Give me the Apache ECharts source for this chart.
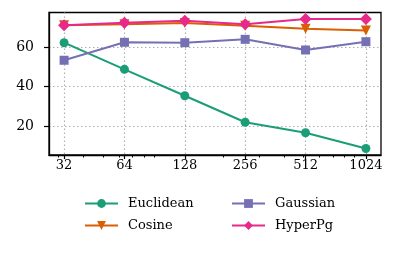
<!DOCTYPE html>
<html><head><meta charset="utf-8">
<script src="https://cdn.jsdelivr.net/npm/echarts@6/dist/echarts.min.js"></script>
<style>html,body{margin:0;padding:0;background:#fff}#c{width:398px;height:253px}</style>
</head><body><div id="c"></div>
<script>
const dims = [32, 64, 128, 256, 512, 1024];
const euclidean = [62.2, 48.7, 35.3, 21.9, 16.6, 8.6];
const cosine = [71.0, 71.6, 72.2, 70.8, 69.3, 68.4];
const gaussian = [53.3, 62.4, 62.2, 63.9, 58.5, 62.7];
const hyperpg = [71.1, 72.3, 73.3, 71.5, 74.2, 74.2];
const yTicks = [20, 40, 60];
const minorX = [30, 40, 50, 60, 70, 80, 90, 200, 300, 400, 500, 600, 700, 800, 900];

const FONT = 'DejaVu Serif';
const lg = v => Math.log2(v);
const mk = arr => dims.map((d, i) => [lg(d), arr[i]]);
const series = [
  {name: 'Euclidean', data: mk(euclidean), color: '#1b9e77', symbol: 'circle', symbolSize: 9},
  {name: 'Cosine', data: mk(cosine), color: '#d95f02', symbol: 'triangle', symbolRotate: 180, symbolSize: 10},
  {name: 'Gaussian', data: mk(gaussian), color: '#7570b3', symbol: 'rect', symbolSize: 9},
  {name: 'HyperPg', data: mk(hyperpg), color: '#e7298a', symbol: 'diamond', symbolSize: 12}
].map(s => ({
  type: 'line', name: s.name, data: s.data, symbol: s.symbol, symbolSize: s.symbolSize,
  symbolRotate: s.symbolRotate || 0, showAllSymbol: true,
  itemStyle: {color: s.color}, lineStyle: {color: s.color, width: 2}, animation: false,
  xAxisIndex: 0, yAxisIndex: 0
}));

const chart = echarts.init(document.getElementById('c'), null, {renderer: 'canvas'});
const xmin = lg(dims[0]) - 0.25, xmax = lg(dims[dims.length - 1]) + 0.25;
const legendCommon = {
  orient: 'vertical', top: 197, itemGap: 9, padding: 0,
  itemWidth: 33, itemHeight: 11,
  textStyle: {fontFamily: FONT, fontSize: 13, color: '#000', padding: [0, 0, 0, 5]},
  selectedMode: false
};
chart.setOption({
  animation: false,
  grid: {left: 49, right: 17, top: 12.5, bottom: 98, show: true, borderColor: '#000', borderWidth: 1.3, backgroundColor: 'transparent'},
  xAxis: [{
    type: 'value', min: xmin, max: xmax,
    axisLine: {show: true, lineStyle: {color: '#000', width: 1.3}},
    axisTick: {show: true, length: 4, inside: false, lineStyle: {color: '#000', width: 1.2}, customValues: dims.map(lg)},
    axisLabel: {customValues: dims.map(lg), formatter: v => String(Math.round(Math.pow(2, v))), color: '#000', fontFamily: FONT, fontSize: 13, margin: 4},
    splitLine: {show: true, lineStyle: {color: '#b0b0b0', type: [1.5, 2.5], width: 1.2}}
  }, {
    type: 'value', min: xmin, max: xmax, position: 'bottom',
    axisLine: {show: false},
    axisTick: {show: true, length: 2.5, lineStyle: {color: '#000', width: 1}, customValues: minorX.map(lg)},
    axisLabel: {show: false},
    splitLine: {show: false}
  }],
  yAxis: {
    type: 'value', min: 5.3, max: 77.5,
    axisLine: {show: true, lineStyle: {color: '#000', width: 1.3}},
    axisTick: {show: true, length: 5, lineStyle: {color: '#000', width: 1.2}, customValues: yTicks},
    axisLabel: {customValues: yTicks, color: '#000', fontFamily: FONT, fontSize: 14, margin: 15},
    splitLine: {show: true, lineStyle: {color: '#b0b0b0', type: [1.5, 2.5], width: 1.2}}
  },
  legend: [
    Object.assign({data: ['Euclidean', 'Cosine'], left: 84}, legendCommon),
    Object.assign({data: ['Gaussian', 'HyperPg'], left: 231}, legendCommon)
  ],
  series: series
});
</script></body></html>
